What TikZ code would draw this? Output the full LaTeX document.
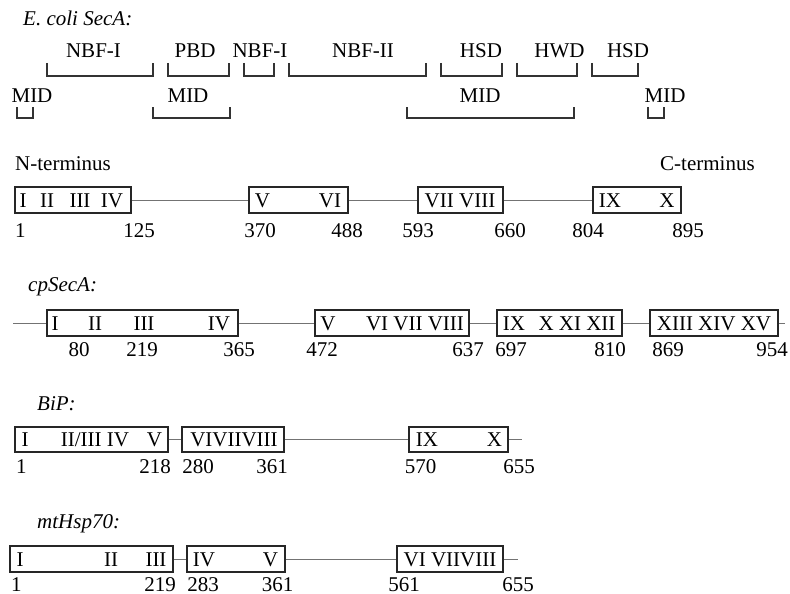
\documentclass[tikz,border=0pt]{standalone}
\usepackage{fontspec}
\setmainfont{Liberation Serif}
\newcommand\pbox[6]{\node[pbox, minimum width={#3-#2}, minimum height={#5-#4}] (#1) at ({(#2+#3)/2},{(#4+#5)/2}) {};}
\newcommand\lab[4]{\node[lab] (#1) at (#2,#3) {#4};}
\newcommand\labw[4]{\node[lab, anchor=base west] (#1) at (#2,#3) {#4};}
\newcommand\brk[4]{\draw[brkline] (#1,#3) -- (#1,#4) -- (#2,#4) -- (#2,#3);}
\begin{document}
\begin{tikzpicture}[x=1pt,y=-1pt,
  pbox/.style={draw=black!85, line width=1.1pt, inner sep=0pt, fill=white},
  lab/.style={inner sep=0pt, anchor=base, font=\fontsize{21}{25}\selectfont},
  ttl/.style={lab, anchor=base west, font=\fontsize{21}{25}\selectfont\itshape},
  brkline/.style={draw=black!80, line width=1.2pt, line join=miter},
  conn/.style={draw=black!55, line width=0.9pt}]
\useasboundingbox (0,0) rectangle (790,594);

% ---------------- E. coli SecA ----------------
\node[ttl] (t1) at (23,26) {E. coli SecA:};
\brk{47}{153}{63}{76}
\brk{168}{229}{63}{76}
\brk{244}{274}{63}{76}
\brk{289}{426}{63}{76}
\brk{441}{502}{63}{76}
\brk{517}{577}{63}{76}
\brk{592}{638}{63}{76}
\lab{d1}{93.5}{58}{NBF-I}
\lab{d2}{195}{58}{PBD}
\lab{d3}{260}{58}{NBF-I}
\lab{d4}{363}{58}{NBF-II}
\lab{d5}{481}{58}{HSD}
\lab{d6}{559.5}{58}{HWD}
\lab{d7}{628}{58}{HSD}
\brk{17}{33}{107}{118}
\brk{153}{230}{107}{118}
\brk{407}{574}{107}{118}
\brk{648}{664}{107}{118}
\lab{m1l}{32}{102.5}{MID}
\lab{m2l}{188}{102.5}{MID}
\lab{m3l}{480}{102.5}{MID}
\lab{m4l}{665}{102.5}{MID}
\labw{nt}{15}{170}{N-terminus}
\labw{ct}{660}{170}{C-terminus}

\pbox{e1}{15}{131}{187}{213}{}
\pbox{e2}{249}{348}{187}{213}{}
\pbox{e3}{418}{503}{187}{213}{}
\pbox{e4}{593}{681}{187}{213}{}
\draw[conn] (e1.east) -- (e2.west);
\draw[conn] (e2.east) -- (e3.west);
\draw[conn] (e3.east) -- (e4.west);
\lab{e1a}{23}{207.5}{I}
\lab{e1b}{47}{207.5}{II}
\lab{e1c}{80}{207.5}{III}
\lab{e1d}{112}{207.5}{IV}
\lab{e2a}{262.5}{207.5}{V}
\lab{e2b}{330}{207.5}{VI}
\lab{e3a}{460}{207.5}{VII VIII}
\lab{e4a}{610}{207.5}{IX}
\lab{e4b}{667}{207.5}{X}
\labw{en1}{15}{237}{1}
\lab{en2}{139}{237}{125}
\lab{en3}{260}{237}{370}
\lab{en4}{347}{237}{488}
\lab{en5}{418}{237}{593}
\lab{en6}{510}{237}{660}
\lab{en7}{588}{237}{804}
\lab{en8}{688}{237}{895}

% ---------------- cpSecA ----------------
\node[ttl] (t2) at (28,291) {cpSecA:};
\coordinate (cs) at (13,323);
\coordinate (ce) at (785,323);
\pbox{c1}{47}{238}{310}{336}{}
\pbox{c2}{315}{469}{310}{336}{}
\pbox{c3}{497}{622}{310}{336}{}
\pbox{c4}{650}{778}{310}{336}{}
\draw[conn] (cs) -- (c1.west);
\draw[conn] (c1.east) -- (c2.west);
\draw[conn] (c2.east) -- (c3.west);
\draw[conn] (c3.east) -- (c4.west);
\draw[conn] (c4.east) -- (ce);
\lab{c1a}{55}{330.5}{I}
\lab{c1b}{95}{330.5}{II}
\lab{c1c}{144}{330.5}{III}
\lab{c1d}{219}{330.5}{IV}
\lab{c2a}{328}{330.5}{V}
\lab{c2b}{415}{330.5}{VI VII VIII}
\lab{c3a}{514}{330.5}{IX}
\lab{c3b}{577}{330.5}{X XI XII}
\lab{c4a}{714}{330.5}{XIII XIV XV}
\lab{cn1}{79}{356}{80}
\lab{cn2}{142}{356}{219}
\lab{cn3}{239}{356}{365}
\lab{cn4}{322}{356}{472}
\lab{cn5}{468}{356}{637}
\lab{cn6}{511}{356}{697}
\lab{cn7}{610}{356}{810}
\lab{cn8}{668}{356}{869}
\lab{cn9}{772}{356}{954}

% ---------------- BiP ----------------
\node[ttl] (t3) at (37,410) {BiP:};
\coordinate (be) at (522,439.5);
\pbox{b1}{15}{168}{427}{452}{}
\pbox{b2}{182}{284}{427}{452}{}
\pbox{b3}{409}{508}{427}{452}{}
\draw[conn] (b1.east) -- (b2.west);
\draw[conn] (b2.east) -- (b3.west);
\draw[conn] (b3.east) -- (be);
\lab{b1a}{25}{446.5}{I}
\lab{b1b}{95}{446.5}{II/III IV}
\lab{b1c}{154.5}{446.5}{V}
\lab{b2a}{234}{446.5}{VIVIIVIII}
\lab{b3a}{427}{446.5}{IX}
\lab{b3b}{494.5}{446.5}{X}
\labw{bn1}{16}{473}{1}
\lab{bn2}{155}{473}{218}
\lab{bn3}{198}{473}{280}
\lab{bn4}{272}{473}{361}
\lab{bn5}{420.5}{473}{570}
\lab{bn6}{519}{473}{655}

% ---------------- mtHsp70 ----------------
\node[ttl] (t4) at (37,528) {mtHsp70:};
\coordinate (me) at (518,559);
\pbox{h1}{10}{173}{546}{572}{}
\pbox{h2}{187}{285}{546}{572}{}
\pbox{h3}{397}{503}{546}{572}{}
\draw[conn] (h1.east) -- (h2.west);
\draw[conn] (h2.east) -- (h3.west);
\draw[conn] (h3.east) -- (me);
\lab{h1a}{20}{566}{I}
\lab{h1b}{111}{566}{II}
\lab{h1c}{156}{566}{III}
\lab{h2a}{204}{566}{IV}
\lab{h2b}{270.5}{566}{V}
\lab{h3a}{450}{566}{VI VIIVIII}
\labw{hn1}{11}{591}{1}
\lab{hn2}{160}{591}{219}
\lab{hn3}{203}{591}{283}
\lab{hn4}{277.5}{591}{361}
\lab{hn5}{404}{591}{561}
\lab{hn6}{518}{591}{655}
\end{tikzpicture}
\end{document}
